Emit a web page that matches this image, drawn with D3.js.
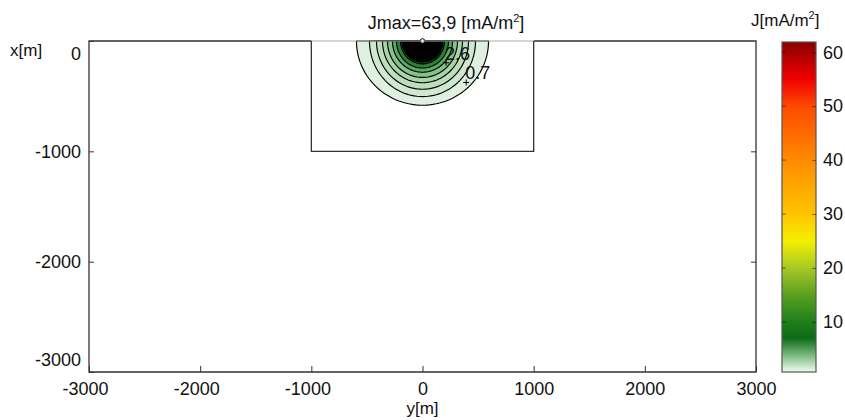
<!DOCTYPE html>
<html>
<head>
<meta charset="utf-8">
<script src="https://cdn.jsdelivr.net/npm/d3@7"></script>
<style>
body { margin: 0; background: #fff; }
svg text { font-family: "Liberation Sans", Arial, Helvetica, sans-serif; fill: #111; }
</style>
</head>
<body>
<div id="chart"></div>
<script>
/* current density contour chart */

// tick values: horizontal axis is y[m], vertical axis is x[m]
var yTicks = [-3000, -2000, -1000, 0, 1000, 2000, 3000];
var xTicks = [0, -1000, -2000, -3000];
var barTicks = [10, 20, 30, 40, 50, 60];

// outline of the inner block
var boxY = [-1000, 1000];
var boxX = [0, -1000];

// contour levels (mA/m2) with half width along y and depth along x (m)
var levels    = [0.7, 1.2, 1.6, 2.1, 2.6, 3.5, 4.6, 6.1, 8.0, 9.5, 11, 13, 15, 18, 21, 25, 30, 36, 43, 51, 60];
var ringWidth = [594, 477, 414, 360, 315, 270, 234, 198, 180, 168, 156, 144, 132, 120, 107, 94, 81, 68, 55, 42, 28];
var ringDepth = [582, 504, 437, 378, 330, 283, 245, 207, 187, 175, 162, 149, 136, 123, 110, 96, 83, 70, 56, 43, 29];

// labelled contours
var labelText = ["2.6", "0.7"];
var labelY = [212, 393];
var labelX = [-197, -376];

var jMax = "63,9";
var barDomain = [0.7, 61.9];

// colour map stops
var cmapValues = [0.7, 3, 7, 10, 15, 20, 25, 30, 40, 50, 55, 61.9];
var cmapColors = ["#f4faf4", "#98cc9a", "#0b6c16", "#1f7f1a", "#5aa020", "#a8c825", "#f4f000", "#ffc400", "#ff8a00", "#ff4a00", "#f00000", "#8a0000"];


var ContourChart = function(config){
	this.targetID = config.targetID;
	this.width = 845;
	this.height = 420;

	this.createSVG();
	this.setupHelpers();
	this.addContours();
	this.addFrame();
	this.addAxes();
	this.addColorbar();
}

ContourChart.prototype.createSVG = function(){
	this.plot = {left: 89, right: 756, top: 41, bottom: 372};

	this.svg = d3.select("#" + this.targetID).append('svg')
		.attr('width', this.width)
		.attr('height', this.height);
}

ContourChart.prototype.setupHelpers = function(){
	this.xs = d3.scaleLinear()
		.domain([-3000, 3000])
		.range([this.plot.left, this.plot.right]);

	this.ys = d3.scaleLinear()
		.domain([0, -3000])
		.range([this.plot.top, this.plot.bottom]);

	this.cmap = d3.scaleLinear()
		.domain(cmapValues)
		.range(cmapColors)
		.clamp(true);

	this.barScale = d3.scaleLinear()
		.domain(barDomain)
		.range([372, 42]);

	// plain hyphen, no thousands separator
	this.fmt = d => String(d);
}

ContourChart.prototype.addContours = function(){
	let xs = this.xs, ys = this.ys;
	let angles = d3.range(0, 181, 3).map(a => a * Math.PI / 180);

	// each band is filled with the colour of the level just inside it
	let rings = levels.map((lv, i) => ({
		level: lv,
		inner: levels[Math.min(i + 1, levels.length - 1)],
		w: ringWidth[i],
		d: ringDepth[i]
	}));

	let line = d3.line();

	this.svg.append('g').selectAll('path')
		.data(rings)
		.enter()
		.append('path')
		.attr('d', r => line(angles.map(a => [xs(-r.w * Math.cos(a)), ys(-r.d * Math.sin(a))])) + 'Z')
		.style('fill', r => this.cmap(r.inner))
		.style('stroke', '#000')
		.style('stroke-width', r => r.level >= 8 ? 2.2 : 1.15);

	// contour labels with markers
	let lab = this.svg.append('g');
	labelText.forEach((t, i) => {
		let px = xs(labelY[i]), py = ys(labelX[i]);
		lab.append('path')
			.attr('d', `M${px-3},${py}H${px+3}M${px},${py-3}V${py+3}`)
			.style('stroke', '#000');
		lab.append('text')
			.attr('x', px - 1)
			.attr('y', py - 3)
			.style('font-size', '18px')
			.text(t);
	});

	// source point
	this.svg.append('circle')
		.attr('cx', xs(0))
		.attr('cy', ys(0))
		.attr('r', 2.3)
		.style('fill', '#fff')
		.style('stroke', '#000');
}

ContourChart.prototype.addFrame = function(){
	let xs = this.xs, ys = this.ys, p = this.plot;

	// frame, top edge above the block drawn lighter
	this.svg.append('path')
		.attr('d', `M${xs(boxY[0])},${p.top}H${p.left}V${p.bottom}H${p.right}V${p.top}H${xs(boxY[1])}`)
		.style('fill', 'none')
		.style('stroke', '#333')
		.style('stroke-width', 1.3);

	this.svg.append('path')
		.attr('d', `M${xs(boxY[0])},${p.top}H${xs(boxY[1])}`)
		.style('stroke', '#aaa')
		.style('stroke-width', 1);

	// inner block
	this.svg.append('path')
		.attr('d', `M${xs(boxY[0])},${ys(boxX[0])}V${ys(boxX[1])}H${xs(boxY[1])}V${ys(boxX[0])}`)
		.style('fill', 'none')
		.style('stroke', '#333')
		.style('stroke-width', 1.3);
}

ContourChart.prototype.addAxes = function(){
	let p = this.plot;

	let bottom = this.svg.append('g')
		.attr('transform', `translate(0,${p.bottom})`)
		.call(d3.axisBottom(this.xs).tickValues(yTicks).tickFormat(this.fmt).tickSize(-6).tickPadding(10));

	let left = this.svg.append('g')
		.attr('transform', `translate(${p.left},0)`)
		.call(d3.axisLeft(this.ys).tickValues(xTicks).tickFormat(this.fmt).tickSize(-5).tickPadding(8));

	let right = this.svg.append('g')
		.attr('transform', `translate(${p.right},0)`)
		.call(d3.axisRight(this.ys).tickValues(xTicks.slice(1, 3)).tickSize(-5).tickFormat(''));

	[bottom, left, right].forEach(g => {
		g.select('.domain').remove();
		g.selectAll('line').style('stroke', '#333');
		g.selectAll('text').style('font-size', '18px').style('fill', '#111').attr('font-family', null);
	});

	// negative labels sit a little left of their tick
	bottom.selectAll('text').attr('dx', d => d < 0 ? '-0.22em' : 0);

	// end labels of the vertical axis pulled inside
	left.selectAll('text')
		.attr('dy', d => d === 0 ? '1.05em' : d === -3000 ? '-0.35em' : '0.32em');

	this.svg.append('text')
		.attr('x', 10)
		.attr('y', 56)
		.style('font-size', '17px')
		.text('x[m]');

	this.svg.append('text')
		.attr('x', this.xs(0))
		.attr('y', 414)
		.attr('text-anchor', 'middle')
		.style('font-size', '17px')
		.text('y[m]');

	let title = this.svg.append('text')
		.attr('x', 446)
		.attr('y', 29)
		.attr('text-anchor', 'middle')
		.style('font-size', '18px')
		.text('Jmax=' + jMax + ' [mA/m');
	title.append('tspan').attr('dy', -7).style('font-size', '11px').text('2');
	title.append('tspan').attr('dy', 7).text(']');
}

ContourChart.prototype.addColorbar = function(){
	let bx = 782, bw = 34;
	let bs = this.barScale;
	let span = barDomain[1] - barDomain[0];

	let grad = this.svg.append('defs').append('linearGradient')
		.attr('id', 'cbar')
		.attr('x1', 0).attr('y1', 1)
		.attr('x2', 0).attr('y2', 0);

	grad.selectAll('stop')
		.data(cmapValues)
		.enter()
		.append('stop')
		.attr('offset', v => Math.max(0, Math.min(1, (v - barDomain[0]) / span)))
		.attr('stop-color', v => this.cmap(v));

	this.svg.append('rect')
		.attr('x', bx)
		.attr('y', bs(barDomain[1]))
		.attr('width', bw)
		.attr('height', bs(barDomain[0]) - bs(barDomain[1]))
		.style('fill', 'url(#cbar)')
		.style('stroke', '#555')
		.style('stroke-width', 1.2);

	let g = this.svg.append('g')
		.attr('transform', `translate(${bx + bw},0)`)
		.call(d3.axisRight(bs).tickValues(barTicks).tickSize(-4).tickPadding(7));
	g.select('.domain').remove();
	g.selectAll('line').style('stroke', '#000').style('opacity', 0.45);
	g.selectAll('text').style('font-size', '18px').style('fill', '#111').attr('font-family', null);

	this.svg.append('g').selectAll('line')
		.data(barTicks)
		.enter()
		.append('line')
		.attr('x1', bx).attr('x2', bx + 4)
		.attr('y1', d => bs(d)).attr('y2', d => bs(d))
		.style('stroke', '#000').style('opacity', 0.45);

	let lab = this.svg.append('text')
		.attr('x', 751)
		.attr('y', 26)
		.style('font-size', '17px')
		.text('J[mA/m');
	lab.append('tspan').attr('dy', -7).style('font-size', '11px').text('2');
	lab.append('tspan').attr('dy', 7).text(']');
}

var chart = new ContourChart({targetID: 'chart'});
</script>
</body>
</html>
